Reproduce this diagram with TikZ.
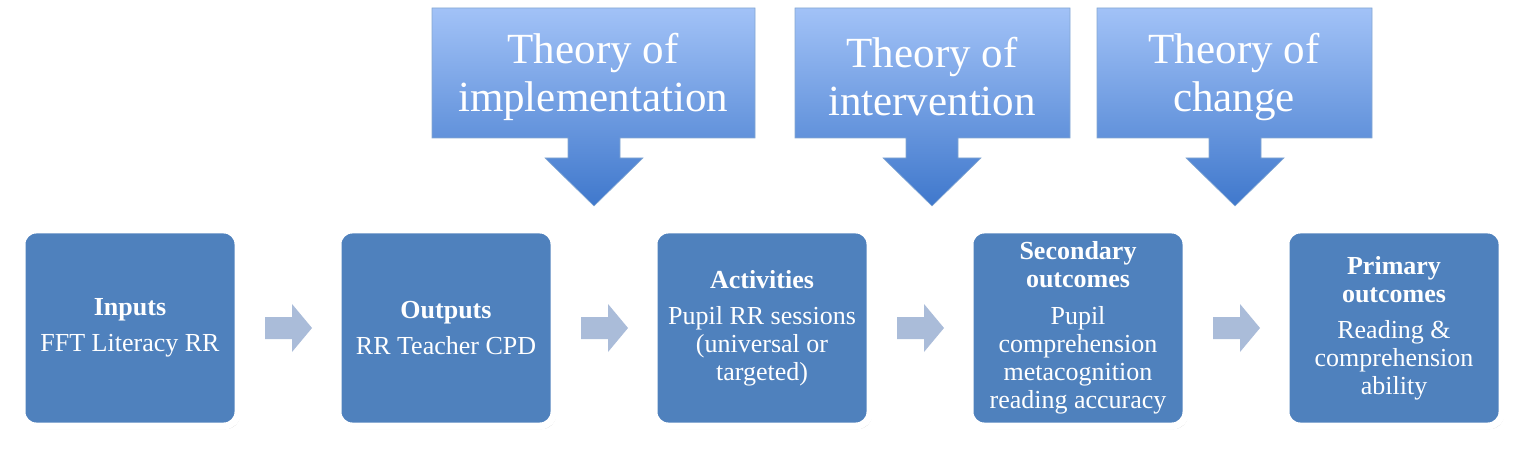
\documentclass[tikz,border=0pt]{standalone}
\usepackage{fontspec}
\setmainfont{Liberation Serif}
\usetikzlibrary{shadows,calc}
\definecolor{boxblue}{HTML}{4F81BD}
\definecolor{toplt}{HTML}{A2C2F7}
\definecolor{botdk}{HTML}{3F78CC}
\definecolor{smallar}{HTML}{AABCD9}
\tikzset{
  stage/.style={draw=white,line width=7pt,fill=boxblue,rounded corners=14pt,minimum width=216pt,minimum height=196pt,text=white,align=center,font=\fontsize{26}{28}\selectfont,drop shadow={shadow xshift=2pt,shadow yshift=-3pt,opacity=0.35}},
  callout/.style={top color=toplt,bottom color=botdk,draw=boxblue!70,line width=0.6pt},
  ctext/.style={text=white,align=center,font=\fontsize{43}{48}\selectfont},
  flow/.style={fill=smallar}
}
\begin{document}
\begin{tikzpicture}[x=1pt,y=-1pt]
\useasboundingbox (0,0) rectangle (1525,454);
% callouts
\foreach \l/\r/\c/\n in {432/755/594/a,795/1070/932/b,1097/1372/1235/c}{
  \path[callout] (\l,8) -- (\r,8) -- (\r,138) -- (\c+26,138) -- (\c+26,158) -- (\c+49,158) -- (\c,206) -- (\c-49,158) -- (\c-26,158) -- (\c-26,138) -- (\l,138) -- cycle;
}
\node[ctext] (ta) at (593,77) {Theory of\\implementation};
\node[ctext] (tb) at (932,77) {Theory of\\intervention};
\node[ctext] (tc) at (1234,77) {Theory of\\change};
% stages
\node[stage] (s1) at (130,328) {\textbf{Inputs}\\[8pt]FFT Literacy RR};
\node[stage] (s2) at (446,328) {\textbf{Outputs}\\[8pt]RR Teacher CPD};
\node[stage] (s3) at (762,328) {\textbf{Activities}\\[8pt]Pupil RR sessions\\(universal or\\targeted)};
\node[stage] (s4) at (1078,328) {\textbf{Secondary}\\\textbf{outcomes}\\[9pt]Pupil\\comprehension\\metacognition\\reading accuracy};
\node[stage] (s5) at (1394,328) {\textbf{Primary}\\\textbf{outcomes}\\[8pt]Reading \&\\comprehension\\ability};
% small arrows
\foreach \a/\b in {s1/s2,s2/s3,s3/s4,s4/s5}{
  \coordinate (m) at ($(\a.east)!0.5!(\b.west)$);
  \fill[flow] ($(m)+(-23,-11)$) -- ($(m)+(4,-11)$) -- ($(m)+(4,-24)$) -- ($(m)+(24,0)$) -- ($(m)+(4,24)$) -- ($(m)+(4,11)$) -- ($(m)+(-23,11)$) -- cycle;
}
\end{tikzpicture}
\end{document}
